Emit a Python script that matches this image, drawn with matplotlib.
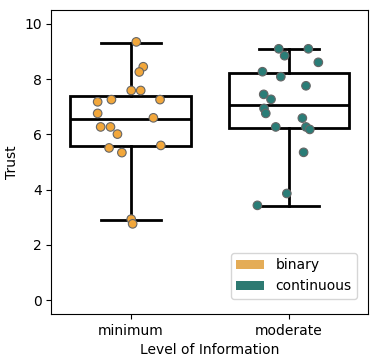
import numpy as np
import matplotlib
matplotlib.use("Agg")
import matplotlib.pyplot as plt
from matplotlib.patches import Patch

# Daten
levels = ["minimum", "moderate"]

trust_minimum = [9.35, 8.45, 8.26, 7.59, 7.59, 7.18, 7.26, 7.26, 6.76,
                 6.60, 6.27, 6.27, 6.01, 5.51, 5.34, 5.60, 2.93, 2.76]
kind_minimum = ["binary"] * 18
jitter_minimum = [0.036, 0.080, 0.055, 0.004, 0.064, -0.208, -0.121, 0.186, -0.208,
                  0.144, -0.189, -0.127, -0.083, -0.136, -0.055, 0.191, 0.004, 0.013]

trust_moderate = [9.10, 9.10, 8.85, 8.61, 8.27, 8.09, 7.76, 7.45, 7.27,
                  6.94, 6.76, 6.59, 6.27, 6.27, 6.18, 5.35, 3.86, 3.43]
kind_moderate = ["continuous"] * 18
jitter_moderate = [-0.064, 0.123, -0.027, 0.186, -0.167, -0.051, 0.108, -0.159, -0.113,
                   -0.157, -0.146, 0.085, -0.083, 0.108, 0.132, 0.093, -0.013, -0.199]

# Boxplot-Kennwerte (Whisker, Quartile, Median)
box_stats = [
    dict(whislo=2.90, q1=5.59, med=6.57, q3=7.40, whishi=9.31),
    dict(whislo=3.42, q1=6.24, med=7.07, q3=8.22, whishi=9.10),
]

point_colors = {"binary": "#F2A73B", "continuous": "#2A7D77"}
legend_colors = {"binary": "#E4AC57", "continuous": "#2E7A72"}

fig = plt.figure(figsize=(3.81, 3.62), dpi=100)
ax = fig.add_axes([0.135, 0.133, 0.831, 0.839])

stats = [dict(s, label=l, fliers=[]) for s, l in zip(box_stats, levels)]
ax.bxp(stats, positions=[0, 1], widths=0.76, patch_artist=True, showfliers=False,
       boxprops=dict(facecolor="white", edgecolor="black", linewidth=2),
       medianprops=dict(color="black", linewidth=2),
       whiskerprops=dict(color="black", linewidth=2),
       capprops=dict(color="black", linewidth=2), zorder=1)

groups = [(0, trust_minimum, kind_minimum, jitter_minimum),
          (1, trust_moderate, kind_moderate, jitter_moderate)]
for pos, vals, kinds, jit in groups:
    xs = pos + np.array(jit)
    cols = [point_colors[k] for k in kinds]
    ax.scatter(xs, vals, s=38, c=cols, edgecolors="#666666", linewidths=0.8, zorder=3)

ax.set_xlim(-0.5, 1.5)
ax.set_ylim(-0.5, 10.5)
ax.set_xticks([0, 1])
ax.set_xticklabels(levels)
ax.set_yticks([0, 2, 4, 6, 8, 10])
ax.set_xlabel("Level of Information")
ax.set_ylabel("Trust")

handles = [Patch(facecolor=legend_colors[k], label=k) for k in ["binary", "continuous"]]
ax.legend(handles=handles, loc="lower right", bbox_to_anchor=(0.965, 0.049),
          borderaxespad=0)

fig.savefig("out.png", dpi=100)
